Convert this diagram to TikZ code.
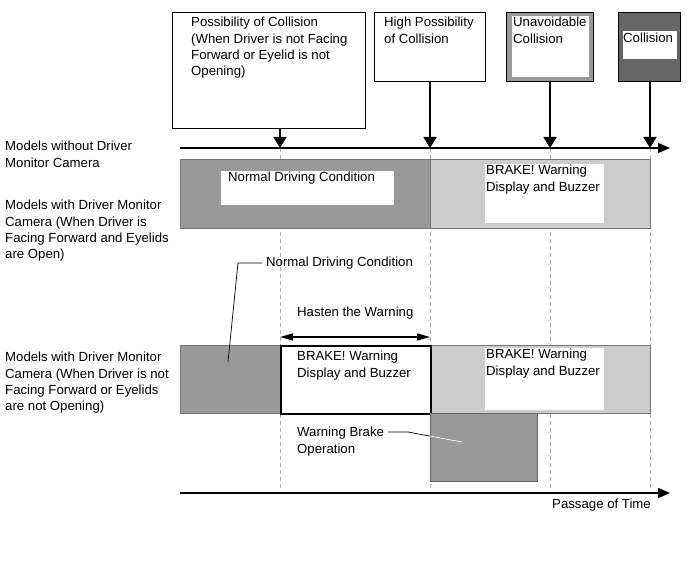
\documentclass[tikz,border=0pt]{standalone}
\usepackage{fontspec}
\setmainfont{Liberation Sans}
\usetikzlibrary{arrows.meta}
\definecolor{dg}{HTML}{999999}
\definecolor{lg}{HTML}{CCCCCC}
\definecolor{vdg}{HTML}{666666}
\definecolor{edge}{HTML}{777777}
\definecolor{dashc}{HTML}{B0B0B0}
\begin{document}
\begin{tikzpicture}[x=1pt,y=-1pt,
  txt/.style={font=\fontsize{13.2}{16.3}\selectfont, align=left, inner sep=0pt, anchor=base west},
  topbox/.style={draw=black, line width=0.8pt, fill=white},
  whitebox/.style={fill=white, draw=none},
  band/.style={draw=edge, line width=0.6pt},
  bigarrow/.style={line width=1.5pt, -{Triangle[width=13pt,length=11pt]}},
  axisline/.style={line width=1.6pt, -{Triangle[width=10pt,length=12pt]}},
  guide/.style={draw=dashc, dashed, line width=0.5pt, dash pattern=on 4pt off 3pt},
  leader/.style={line width=0.7pt}]
\useasboundingbox (0,0) rectangle (689,561);

% guide lines
\coordinate (g1t) at (280,148); \coordinate (g1b) at (280,490);
\coordinate (g2t) at (430,148); \coordinate (g2b) at (430,490);
\coordinate (g3t) at (550,148); \coordinate (g3b) at (550,490);
\coordinate (g4t) at (650,148); \coordinate (g4b) at (650,490);
\draw[guide] (g1t) -- (g1b);
\draw[guide] (g2t) -- (g2b);
\draw[guide] (g3t) -- (g3b);
\draw[guide] (g4t) -- (g4b);

% top boxes
\node[topbox, anchor=north west, minimum width=193pt, minimum height=116pt] (b1) at (172,12) {};
\node[topbox, anchor=north west, minimum width=111pt, minimum height=69pt] (b2) at (374,12) {};
\node[topbox, fill=dg, anchor=north west, minimum width=87pt, minimum height=69pt] (b3) at (506,12) {};
\node[whitebox, anchor=north west, minimum width=77pt, minimum height=61pt] (b3in) at (512,16) {};
\node[topbox, fill=vdg, anchor=north west, minimum width=62pt, minimum height=69pt] (b4) at (618,12) {};
\node[whitebox, anchor=north west, minimum width=54pt, minimum height=28pt] (b4in) at (623,31) {};

\node[txt] (t1) at (191,75.9) {Possibility of Collision\\(When Driver is not Facing\\Forward or Eyelid is not\\Opening)};
\node[txt] (t2) at (384,43.3) {High Possibility\\of Collision};
\node[txt] (t3) at (513,43.3) {Unavoidable\\Collision};
\node[txt] (t4) at (623,43) {Collision};

% time axis top
\coordinate (ax0) at (180,148);
\coordinate (ax1) at (670,148);
\draw[axisline] (ax0) -- (ax1);
\draw[bigarrow] (b1.south -| g1t) -- (g1t);
\draw[bigarrow] (b2.south -| g2t) -- (g2t);
\draw[bigarrow] (b3.south -| g3t) -- (g3t);
\draw[bigarrow] (b4.south -| g4t) -- (g4t);

% left labels
\node[txt] (l1) at (5,167.3) {Models without Driver\\Monitor Camera};
\node[txt] (l2) at (5,258.9) {Models with Driver Monitor\\Camera (When Driver is\\Facing Forward and Eyelids\\are Open)};
\node[txt] (l3) at (5,410.9) {Models with Driver Monitor\\Camera (When Driver is not\\Facing Forward or Eyelids\\are not Opening)};

% band 1
\node[band, fill=dg, anchor=north west, minimum width=250pt, minimum height=69pt] (r1a) at (180,159) {};
\node[band, fill=lg, anchor=north west, minimum width=220pt, minimum height=69pt] (r1b) at (430,159) {};
\node[whitebox, anchor=north west, minimum width=173pt, minimum height=34pt] (w1a) at (221,171) {};
\node[whitebox, anchor=north west, minimum width=119pt, minimum height=59pt] (w1b) at (485,164) {};
\node[txt] (t5) at (228,182) {Normal Driving Condition};
\node[txt] (t6) at (486,191.3) {BRAKE! Warning\\Display and Buzzer};

% band 2
\node[band, fill=dg, anchor=north west, minimum width=100pt, minimum height=68pt] (r2a) at (180,345) {};
\node[band, fill=lg, anchor=north west, minimum width=220pt, minimum height=68pt] (r2c) at (430,345) {};
\node[draw=black, line width=2pt, fill=white, anchor=north west, minimum width=150pt, minimum height=68pt] (r2b) at (280,345) {};
\node[whitebox, anchor=north west, minimum width=119pt, minimum height=62pt] (w2c) at (485,348) {};
\node[txt] (t7) at (297,377.3) {BRAKE! Warning\\Display and Buzzer};
\node[txt] (t8) at (486,375.3) {BRAKE! Warning\\Display and Buzzer};

% warning brake operation
\node[draw=vdg, line width=0.6pt, fill=dg, anchor=north west, minimum width=107pt, minimum height=68pt] (r3) at (430,413) {};
\node[txt] (t9) at (297,453.3) {Warning Brake\\Operation};

% labels with leaders
\node[txt] (t10) at (266,267) {Normal Driving Condition};
\coordinate (k1) at (238,263);
\coordinate (k1e) at (228,362);
\draw[leader] (t10.west |- k1) ++(-4,0) -- (k1) -- (k1e);
\coordinate (k2) at (408,432);
\coordinate (k2m) at (430,436.1);
\coordinate (k2e) at (462,442);
\draw[leader] (t9.east |- k2) ++(4,0) -- (k2) -- (k2m);
\draw[leader, white] (k2m) -- (k2e);

% hasten
\node[txt] (t11) at (297,317) {Hasten the Warning};
\coordinate (h0) at (280,337);
\coordinate (h1) at (430,337);
\draw[line width=1.3pt, {Triangle[width=7pt,length=13pt]}-{Triangle[width=7pt,length=13pt]}] (h0) -- (h1);

% bottom axis
\coordinate (bx0) at (180,493);
\coordinate (bx1) at (670,493);
\draw[axisline] (bx0) -- (bx1);
\node[txt, anchor=base east] (t12) at (651,509) {Passage of Time};
\end{tikzpicture}
\end{document}
